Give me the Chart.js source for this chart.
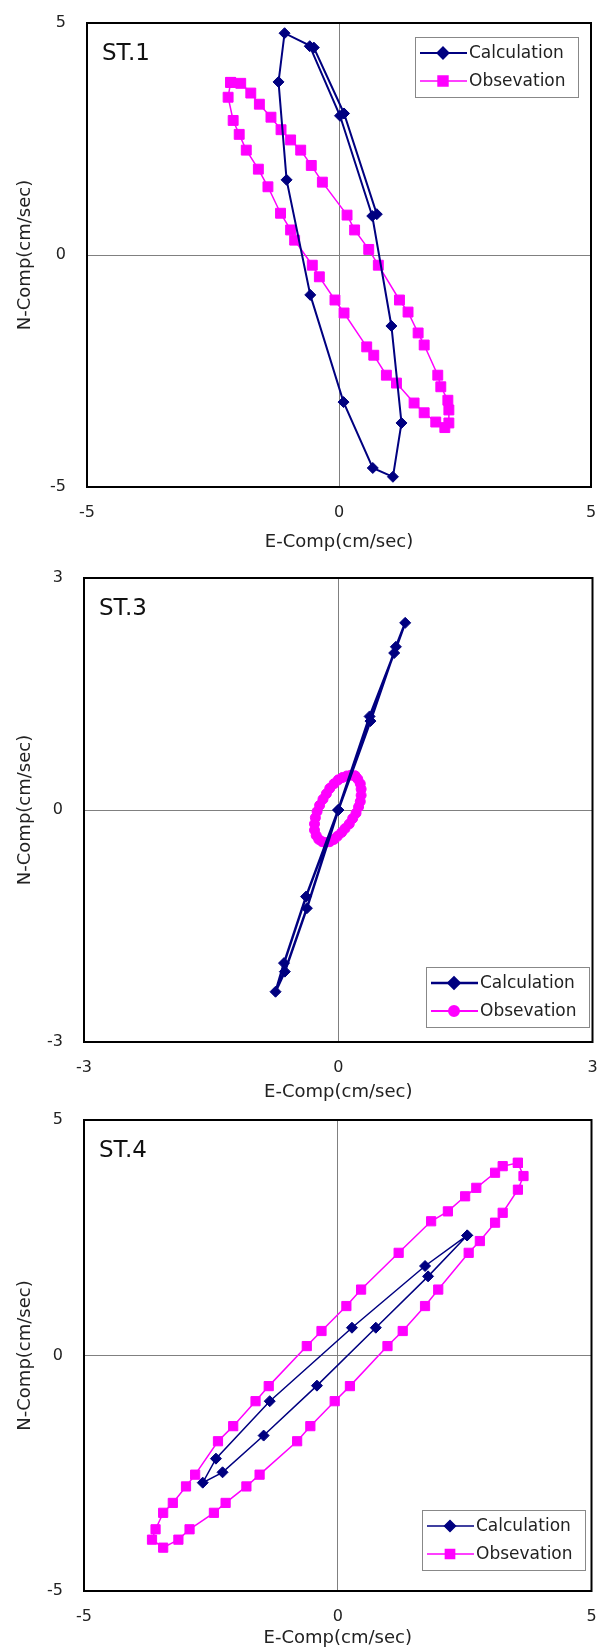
<!DOCTYPE html>
<html>
<head>
<meta charset="utf-8">
<script src="https://cdn.jsdelivr.net/npm/chart.js@4.4.0/dist/chart.umd.min.js"></script>
<style>
  html, body { margin: 0; padding: 0; background: #fff; overflow: hidden; }
  body { width: 599px; height: 1652px; position: relative; }
  .panel { position: absolute; left: 0; width: 599px; }
</style>
</head>
<body>
<div class="panel" style="top:0px"><canvas id="st1" width="599" height="565"></canvas></div>
<div class="panel" style="top:550px"><canvas id="st3" width="599" height="570"></canvas></div>
<div class="panel" style="top:1092px"><canvas id="st4" width="599" height="560"></canvas></div>
<script>
// ST.1
const st1Ticks = [-5, 0, 5];
const st1CalcE = [0.75, 0.10, -0.50, -1.08, -1.20, -1.04, -0.57, 0.09, 0.67, 1.07, 1.24, 1.04, 0.66, 0.02, -0.58];
const st1CalcN = [0.88, 3.05, 4.47, 4.78, 3.73, 1.62, -0.86, -3.17, -4.59, -4.78, -3.62, -1.53, 0.84, 3.00, 4.50];
const st1ObsE = [-2.15, -1.95, -1.75, -1.58, -1.35, -1.15, -0.96, -0.76, -0.55, -0.33, 0.16, 0.31, 0.59, 0.78, 1.20, 1.37, 1.57, 1.69, 1.96, 2.02,
                 2.16, 2.18, 2.18, 2.10, 1.92, 1.69, 1.49, 1.14, 0.94, 0.69, 0.55, 0.10, -0.08, -0.39, -0.53, -0.88, -0.96, -1.16, -1.41, -1.60,
                 -1.84, -1.98, -2.10, -2.20, -2.15];
const st1ObsN = [3.72, 3.70, 3.49, 3.25, 2.97, 2.70, 2.48, 2.26, 1.93, 1.57, 0.86, 0.54, 0.12, -0.22, -0.97, -1.23, -1.68, -1.94, -2.59, -2.84,
                 -3.13, -3.34, -3.62, -3.72, -3.60, -3.40, -3.19, -2.76, -2.59, -2.16, -1.98, -1.25, -0.97, -0.47, -0.22, 0.32, 0.54, 0.90, 1.47, 1.85,
                 2.26, 2.60, 2.90, 3.40, 3.72];

// ST.3
const st3Ticks = [-3, 0, 3];
const st3CalcE = [0.00, 0.37, 0.66, 0.79, 0.68, 0.38, 0.00, -0.38, -0.64, -0.74, -0.63, -0.37, 0.00];
const st3CalcN = [0.00, 1.21, 2.03, 2.42, 2.11, 1.15, 0.00, -1.12, -1.98, -2.35, -2.09, -1.27, 0.00];
const st3ObsE = [0.20, 0.23, 0.26, 0.27, 0.27, 0.26, 0.24, 0.21, 0.17, 0.13, 0.08, 0.04, -0.01, -0.05, -0.10, -0.15, -0.19, -0.23, -0.26, -0.28,
                 -0.28, -0.27, -0.25, -0.22, -0.18, -0.14, -0.10, -0.05, 0.00, 0.05, 0.10, 0.15, 0.20];
const st3ObsN = [0.44, 0.40, 0.34, 0.27, 0.19, 0.11, 0.04, -0.04, -0.11, -0.18, -0.24, -0.29, -0.34, -0.38, -0.41, -0.42, -0.41, -0.38, -0.33, -0.26,
                 -0.18, -0.10, -0.02, 0.06, 0.14, 0.21, 0.28, 0.34, 0.39, 0.42, 0.44, 0.45, 0.44];

// ST.4
const st4Ticks = [-5, 0, 5];
const st4CalcE = [2.55, 1.78, 0.75, -0.41, -1.46, -2.27, -2.66, -2.40, -1.34, 0.28, 1.72, 2.55];
const st4CalcN = [2.55, 1.68, 0.59, -0.64, -1.70, -2.48, -2.70, -2.19, -0.97, 0.59, 1.90, 2.55];
const st4ObsE = [3.55, 3.66, 3.55, 3.25, 3.10, 2.80, 2.58, 1.98, 1.72, 1.28, 0.98, 0.24, -0.06, -0.54, -0.80, -1.54, -1.80, -2.21, -2.44, -2.92,
                 -3.14, -3.44, -3.66, -3.59, -3.44, -3.25, -2.99, -2.81, -2.36, -2.06, -1.62, -1.36, -0.61, -0.32, 0.17, 0.46, 1.20, 1.84, 2.17, 2.51,
                 2.73, 3.10, 3.25, 3.55];
const st4ObsN = [4.09, 3.81, 3.52, 3.03, 2.82, 2.43, 2.18, 1.40, 1.05, 0.52, 0.20, -0.65, -0.97, -1.50, -1.82, -2.53, -2.78, -3.13, -3.34, -3.69,
                 -3.91, -4.08, -3.91, -3.69, -3.34, -3.13, -2.78, -2.53, -1.82, -1.50, -0.97, -0.65, 0.20, 0.52, 1.05, 1.40, 2.18, 2.85, 3.06, 3.38,
                 3.56, 3.88, 4.02, 4.09];

const seriesNames = ['Calculation', 'Obsevation'];
const xTitle = 'E-Comp(cm/sec)';
const yTitle = 'N-Comp(cm/sec)';

const NAVY = '#000080';
const MAGENTA = '#ff00ff';
const FONT = "'DejaVu Sans', sans-serif";

Chart.defaults.font.family = FONT;
Chart.defaults.color = '#222';

function pts(e, n) {
  return e.map((v, i) => ({x: v, y: n[i]}));
}

// frame, station label and the boxed legend inside the plot
const framePlugin = {
  id: 'frame',
  afterDraw(chart, args, opts) {
    const ctx = chart.ctx, a = chart.chartArea;
    ctx.save();
    ctx.strokeStyle = '#000';
    ctx.lineWidth = 2;
    ctx.strokeRect(a.left, a.top, a.right - a.left, a.bottom - a.top);

    ctx.fillStyle = '#111';
    ctx.font = '23px ' + FONT;
    ctx.textBaseline = 'middle';
    ctx.textAlign = 'left';
    ctx.fillText(opts.label, a.left + 15, a.top + 31);

    const lx = a.left + opts.legendX, ly = a.top + opts.legendY;
    ctx.fillStyle = '#fff';
    ctx.fillRect(lx, ly, 163, 60);
    ctx.strokeStyle = '#888';
    ctx.lineWidth = 1;
    ctx.strokeRect(lx + 0.5, ly + 0.5, 163, 60);
    chart.data.datasets.forEach((ds, i) => {
      const y = ly + 16 + i * 28;
      ctx.strokeStyle = ds.borderColor;
      ctx.lineWidth = ds.borderWidth;
      ctx.beginPath();
      ctx.moveTo(lx + 5, y);
      ctx.lineTo(lx + 52, y);
      ctx.stroke();
      ctx.fillStyle = ds.backgroundColor;
      Chart.helpers.drawPoint(ctx, {pointStyle: ds.pointStyle, radius: ds.pointRadius, rotation: 0, borderWidth: 1}, lx + 28, y);
      ctx.fillStyle = '#222';
      ctx.font = '17px ' + FONT;
      ctx.fillText(ds.label, lx + 54, y + 1);
    });
    ctx.restore();
  }
};

function makeChart(id, cfg) {
  const ticksFrom = (arr) => (scale) => { scale.ticks = arr.map(v => ({value: v})); };
  const gridCfg = {
    drawTicks: false,
    lineWidth: 1,
    color: (c) => (c.tick && c.tick.value === 0) ? '#808080' : 'rgba(0,0,0,0)'
  };
  return new Chart(document.getElementById(id), {
    type: 'scatter',
    data: {
      datasets: [
        {
          label: seriesNames[0],
          data: pts(cfg.calcE, cfg.calcN),
          showLine: true,
          borderColor: NAVY,
          backgroundColor: NAVY,
          borderWidth: cfg.calcLine,
          pointStyle: 'rectRot',
          pointRadius: cfg.calcRadius,
          pointBorderWidth: 1,
          pointHoverRadius: cfg.calcRadius
        },
        {
          label: seriesNames[1],
          data: pts(cfg.obsE, cfg.obsN),
          showLine: true,
          borderColor: MAGENTA,
          backgroundColor: MAGENTA,
          borderWidth: cfg.obsLine,
          pointStyle: cfg.obsStyle,
          pointRadius: cfg.obsRadius,
          pointBorderWidth: 1,
          pointHoverRadius: cfg.obsRadius
        }
      ]
    },
    options: {
      responsive: false,
      animation: false,
      events: [],
      layout: {padding: {top: cfg.padTop, right: 2, left: 0, bottom: 0}},
      plugins: {
        legend: {display: false},
        tooltip: {enabled: false},
        frame: {label: cfg.label, legendX: cfg.legendX, legendY: cfg.legendY}
      },
      scales: {
        x: {
          type: 'linear',
          min: cfg.ticks[0],
          max: cfg.ticks[cfg.ticks.length - 1],
          afterBuildTicks: ticksFrom(cfg.ticks),
          afterFit: (s) => { s.height = cfg.axisH; s.paddingLeft = 0; s.paddingRight = 0; },
          grid: gridCfg,
          border: {display: false},
          ticks: {font: {size: 16}, color: '#222', padding: 16, maxRotation: 0},
          title: {display: true, text: xTitle, font: {size: 18}, color: '#222', padding: {top: 0, bottom: cfg.titlePad}}
        },
        y: {
          type: 'linear',
          min: cfg.ticks[0],
          max: cfg.ticks[cfg.ticks.length - 1],
          afterBuildTicks: ticksFrom(cfg.ticks),
          afterFit: (s) => { s.width = cfg.leftW; s.paddingTop = 0; s.paddingBottom = 0; },
          grid: gridCfg,
          border: {display: false},
          ticks: {font: {size: 16}, color: '#222', padding: 21},
          title: {display: true, text: yTitle, font: {size: 18}, color: '#222', padding: {top: 15, bottom: 0}}
        }
      }
    },
    plugins: [framePlugin]
  });
}

makeChart('st1', {
  label: 'ST.1', ticks: st1Ticks,
  calcE: st1CalcE, calcN: st1CalcN, obsE: st1ObsE, obsN: st1ObsN,
  calcLine: 2, calcRadius: 5.5, obsLine: 1.5, obsStyle: 'rect', obsRadius: 7,
  padTop: 23, axisH: 78, titlePad: 12, leftW: 87,
  legendX: 328, legendY: 14
});

makeChart('st3', {
  label: 'ST.3', ticks: st3Ticks,
  calcE: st3CalcE, calcN: st3CalcN, obsE: st3ObsE, obsN: st3ObsN,
  calcLine: 2.5, calcRadius: 5.5, obsLine: 2, obsStyle: 'circle', obsRadius: 5,
  padTop: 28, axisH: 78, titlePad: 17, leftW: 84,
  legendX: 342, legendY: 389
});

makeChart('st4', {
  label: 'ST.4', ticks: st4Ticks,
  calcE: st4CalcE, calcN: st4CalcN, obsE: st4ObsE, obsN: st4ObsN,
  calcLine: 1.5, calcRadius: 5.5, obsLine: 1.5, obsStyle: 'rect', obsRadius: 6.5,
  padTop: 28, axisH: 61, titlePad: 3, leftW: 84,
  legendX: 338, legendY: 390
});
</script>
</body>
</html>
